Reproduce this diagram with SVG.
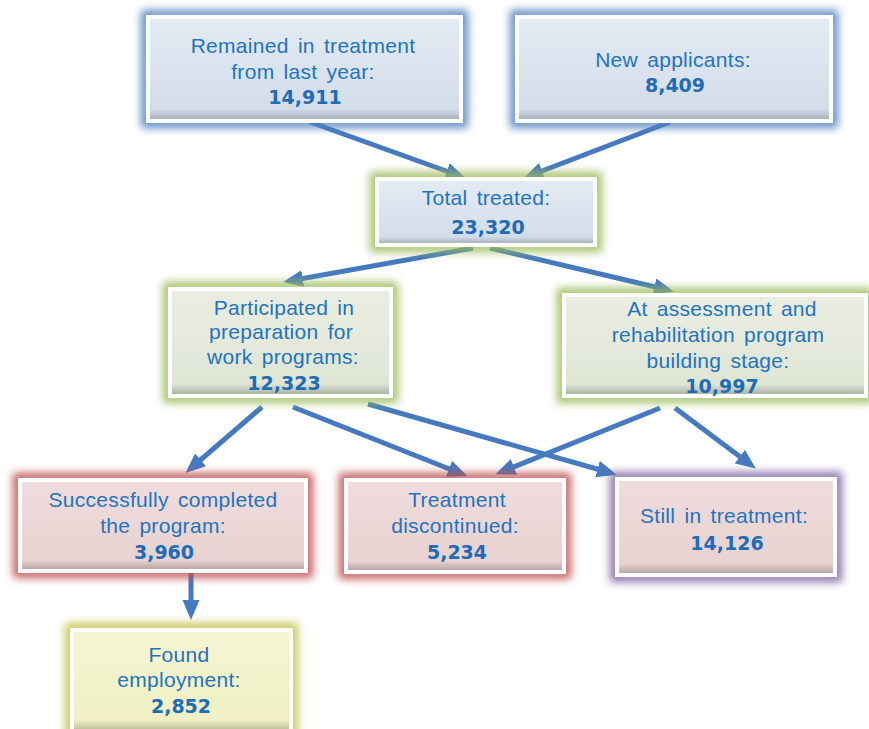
<svg xmlns="http://www.w3.org/2000/svg" width="869" height="729" viewBox="0 0 869 729">
<style>
.t{font-family:"Liberation Sans",Arial,sans-serif;font-size:21px;letter-spacing:0.3px;word-spacing:3px;fill:#2273c0;text-anchor:middle}
.n{font-family:"DejaVu Sans",Verdana,sans-serif;font-size:19px;font-weight:bold;fill:#1c6cb7;text-anchor:middle}
.frame{fill:#ffffff}
.glow{fill:none;stroke-width:10;filter:url(#blur);opacity:0.9}
.arr{stroke:#4579c0;stroke-width:5;fill:none;marker-end:url(#ah)}
</style>
<defs>
<filter id="blur" x="-20%" y="-30%" width="140%" height="160%"><feGaussianBlur stdDeviation="4.5"/></filter>
<linearGradient id="gBlue" x1="0" y1="0" x2="0" y2="1"><stop offset="0" stop-color="#e3ebf4"/><stop offset="0.9" stop-color="#d3dde9"/><stop offset="1" stop-color="#a9b2bd"/></linearGradient>
<linearGradient id="gGreen" x1="0" y1="0" x2="0" y2="1"><stop offset="0" stop-color="#eaeee2"/><stop offset="0.9" stop-color="#dfe6d6"/><stop offset="1" stop-color="#adb3a6"/></linearGradient>
<linearGradient id="gRed" x1="0" y1="0" x2="0" y2="1"><stop offset="0" stop-color="#efdcdc"/><stop offset="0.9" stop-color="#e8d2d2"/><stop offset="1" stop-color="#b9a6a6"/></linearGradient>
<linearGradient id="gYel" x1="0" y1="0" x2="0" y2="1"><stop offset="0" stop-color="#f5f5d2"/><stop offset="0.9" stop-color="#f0f0c4"/><stop offset="1" stop-color="#bdbd98"/></linearGradient>
<marker id="ah" markerUnits="userSpaceOnUse" markerWidth="22" markerHeight="18" refX="14" refY="8.5" orient="auto"><path d="M0,0 L20,8.5 L0,17 Z" fill="#4579c0"/></marker>
</defs>

<g id="connectors">
<line class="arr" x1="310" y1="122" x2="460" y2="176"/>
<line class="arr" x1="670" y1="122" x2="529" y2="176"/>
<line class="arr" x1="473" y1="248" x2="289" y2="281"/>
<line class="arr" x1="490" y1="248" x2="668" y2="290"/>
<line class="arr" x1="262" y1="407" x2="190" y2="469"/>
<line class="arr" x1="293" y1="407" x2="462" y2="474"/>
<line class="arr" x1="368" y1="404" x2="611" y2="473"/>
<line class="arr" x1="660" y1="408" x2="501" y2="472"/>
<line class="arr" x1="675" y1="408" x2="751" y2="465"/>
<line class="arr" x1="191" y1="572" x2="191" y2="614"/>
</g>

<g id="n1">
<rect class="glow" x="146" y="15" width="317" height="108" stroke="#4f81bd"/>
<rect class="frame" x="146" y="15" width="317" height="108"/>
<rect x="150" y="19" width="309" height="100" fill="url(#gBlue)"/>
<text class="t" x="303" y="53">Remained in treatment</text>
<text class="t" x="303" y="79">from last year:</text>
<text class="n" x="305" y="104">14,911</text>
</g>

<g id="n2">
<rect class="glow" x="515" y="15" width="318" height="108" stroke="#4f81bd"/>
<rect class="frame" x="515" y="15" width="318" height="108"/>
<rect x="519" y="19" width="310" height="100" fill="url(#gBlue)"/>
<text class="t" x="673" y="67">New applicants:</text>
<text class="n" x="675" y="92">8,409</text>
</g>

<g id="n3">
<rect class="glow" x="375" y="177" width="222" height="70" stroke="#9bbb59"/>
<rect class="frame" x="375" y="177" width="222" height="70"/>
<rect x="379" y="181" width="214" height="62" fill="url(#gBlue)"/>
<text class="t" x="486" y="205">Total treated:</text>
<text class="n" x="488" y="234">23,320</text>
</g>

<g id="n4">
<rect class="glow" x="168" y="287" width="225" height="111" stroke="#9bbb59"/>
<rect class="frame" x="168" y="287" width="225" height="111"/>
<rect x="172" y="291" width="217" height="103" fill="url(#gGreen)"/>
<text class="t" x="284" y="315">Participated in</text>
<text class="t" x="281" y="339">preparation  for</text>
<text class="t" x="283" y="364">work programs:</text>
<text class="n" x="284" y="390">12,323</text>
</g>

<g id="n5">
<rect class="glow" x="562" y="293" width="306" height="105" stroke="#9bbb59"/>
<rect class="frame" x="562" y="293" width="306" height="105"/>
<rect x="566" y="297" width="298" height="97" fill="url(#gGreen)"/>
<text class="t" x="722" y="316">At assessment and</text>
<text class="t" x="718" y="342">rehabilitation program</text>
<text class="t" x="718" y="368">building stage:</text>
<text class="n" x="722" y="393">10,997</text>
</g>

<g id="n6">
<rect class="glow" x="18" y="478" width="290" height="95" stroke="#c0504d"/>
<rect class="frame" x="18" y="478" width="290" height="95"/>
<rect x="22" y="482" width="282" height="87" fill="url(#gRed)"/>
<text class="t" x="163" y="507">Successfully completed</text>
<text class="t" x="163" y="533">the program:</text>
<text class="n" x="164" y="559">3,960</text>
</g>

<g id="n7">
<rect class="glow" x="344" y="478" width="222" height="96" stroke="#c0504d"/>
<rect class="frame" x="344" y="478" width="222" height="96"/>
<rect x="348" y="482" width="214" height="88" fill="url(#gRed)"/>
<text class="t" x="457" y="507">Treatment</text>
<text class="t" x="455" y="533">discontinued:</text>
<text class="n" x="457" y="559">5,234</text>
</g>

<g id="n8">
<rect class="glow" x="615" y="477" width="222" height="100" stroke="#8064a2"/>
<rect class="frame" x="615" y="477" width="222" height="100"/>
<rect x="619" y="481" width="214" height="92" fill="url(#gRed)"/>
<text class="t" x="724" y="523">Still in treatment:</text>
<text class="n" x="727" y="550">14,126</text>
</g>

<g id="n9">
<rect class="glow" x="70" y="628" width="223" height="106" stroke="#c3c34a"/>
<rect class="frame" x="70" y="628" width="223" height="106"/>
<rect x="74" y="632" width="215" height="98" fill="url(#gYel)"/>
<text class="t" x="179" y="662">Found</text>
<text class="t" x="179" y="687">employment:</text>
<text class="n" x="181" y="713">2,852</text>
</g>
</svg>
